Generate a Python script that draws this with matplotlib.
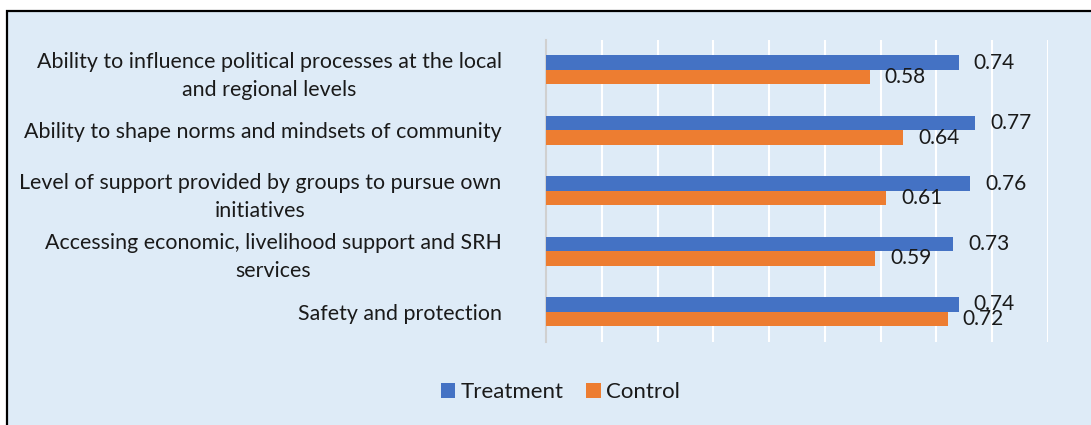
import matplotlib
matplotlib.use("Agg")
import matplotlib.pyplot as plt
from matplotlib.patches import Rectangle, Patch
import numpy as np

categories = [
    "Ability to influence political processes at the local\nand regional levels",
    "Ability to shape norms and mindsets of community",
    "Level of support provided by groups to pursue own\ninitiatives",
    "Accessing economic, livelihood support and SRH\nservices",
    "Safety and protection",
]
treatment = [0.74, 0.77, 0.76, 0.73, 0.74]
control = [0.58, 0.64, 0.61, 0.59, 0.72]
series_names = ["Treatment", "Control"]

BLUE = "#4472C4"
ORANGE = "#ED7D31"
BG = "#DEEBF7"
FONT = "Lato"
FS = 15.4
TXT = "#1a1a1a"

W, H = 1091, 425
fig = plt.figure(figsize=(W / 100, H / 100), dpi=100)
fig.patch.set_facecolor("white")

# chart area panel with a border on its top and left edges
panel = Rectangle((7 / W, -0.1), 1.2, (H - 11) / H + 0.1,
                  transform=fig.transFigure, facecolor=BG,
                  edgecolor="black", linewidth=1.6, zorder=-5)
fig.patches.append(panel)

ax = fig.add_axes([546 / W, 1 - 341.7 / H, (1048 - 546) / W, (341.7 - 39.8) / H])
ax.set_facecolor("none")

y = np.arange(len(categories))
bh = 0.24
ax.barh(y - bh / 2, treatment, height=bh, color=BLUE, zorder=3)
ax.barh(y + bh / 2, control, height=bh, color=ORANGE, zorder=3)

for yi, v in zip(y - bh / 2, treatment):
    ax.annotate(f"{v:.2f}", (v, yi), xytext=(15, 0), textcoords="offset pixels",
                va="center", ha="left", fontsize=15, family=FONT, color=TXT)
for yi, v in zip(y + bh / 2, control):
    ax.annotate(f"{v:.2f}", (v, yi), xytext=(15, 0), textcoords="offset pixels",
                va="center", ha="left", fontsize=15, family=FONT, color=TXT)

ax.set_xlim(0, 0.9)
ax.set_ylim(len(categories) - 0.5, -0.5)
ax.set_xticks(np.arange(0, 0.91, 0.1))
ax.tick_params(axis="x", length=0, labelbottom=False)
ax.grid(axis="x", color="white", linewidth=1.5, zorder=1)
ax.set_axisbelow(True)

ax.set_yticks(y)
ax.set_yticklabels(categories, fontsize=FS, family=FONT, color=TXT)
ax.tick_params(axis="y", length=0, pad=32)
for lbl in ax.get_yticklabels():
    lbl.set_multialignment("center")
    lbl.set_linespacing(1.5)

for s in ["top", "right", "bottom"]:
    ax.spines[s].set_visible(False)
ax.spines["left"].set_color("#D0D0D0")
ax.spines["left"].set_linewidth(1.5)

handles = [Patch(facecolor=BLUE), Patch(facecolor=ORANGE)]
fig.legend(handles, series_names, loc="center", ncol=2,
           bbox_to_anchor=(560.5 / W, 1 - 392 / H), frameon=False,
           prop={"family": FONT, "size": 16}, handlelength=0.65, handleheight=0.65,
           handletextpad=0.25, columnspacing=1.0, labelcolor=TXT)

fig.savefig("out.png", dpi=100)
